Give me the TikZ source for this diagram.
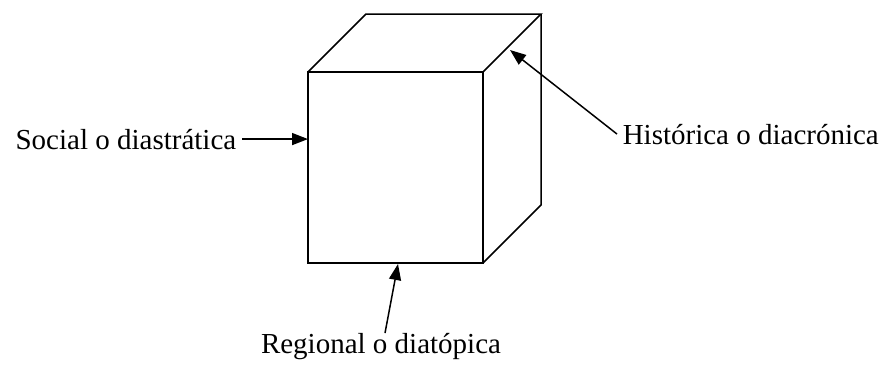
\documentclass[tikz,border=0pt]{standalone}
\usepackage{fontspec}
\setmainfont{Liberation Serif}
\usetikzlibrary{arrows.meta}

\begin{document}
\begin{tikzpicture}[x=1pt, y=-1pt, line width=1.5pt,
	every node/.style={font=\fontsize{29}{32}\selectfont, inner sep=5pt},
	pointer/.style={-{Triangle[length=16pt,width=12pt]}}]
	\useasboundingbox (0,0) rectangle (884,367);
	% cube corners
	\coordinate (F-nw) at (308,72);
	\coordinate (F-ne) at (483,72);
	\coordinate (F-se) at (483,263);
	\coordinate (B-nw) at (366,14);
	\coordinate (B-ne) at (541,14);
	\coordinate (B-se) at (541,205);
	\draw (F-nw) rectangle (F-se);
	\draw (F-nw) -- (B-nw) -- (B-ne) -- (F-ne);
	\draw (B-ne) -- (B-se) -- (F-se);
	% labels
	\node[anchor=base east] (social) at (242,149) {Social o diastrática};
	\node[anchor=base] (regional) at (381,353) {Regional o diatópica};
	\node[anchor=base west] (historica) at (617,144) {Histórica o diacrónica};
	% arrow tips on the cube
	\coordinate (s-tip) at (social.east -| F-nw);
	\coordinate (r-tip) at (398,264);
	\coordinate (h-tip) at (510,50);
	\draw[pointer] (social.east) -- (s-tip);
	\draw[pointer] ([xshift=4pt,yshift=-6pt]regional.north) -- (r-tip);
	\draw[pointer] (historica.west) -- (h-tip);
\end{tikzpicture}
\end{document}
